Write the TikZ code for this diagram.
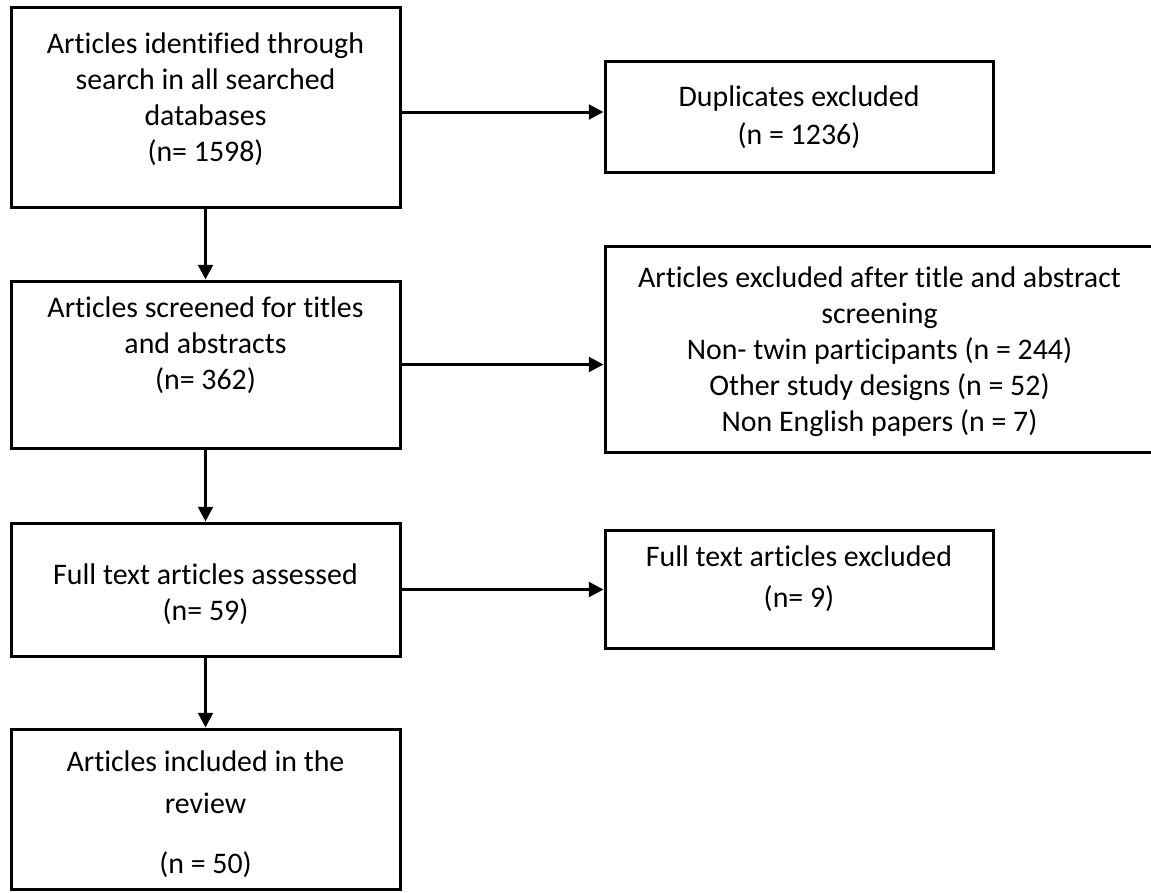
\documentclass[tikz,border=0pt]{standalone}
\usepackage{fontspec}
\setmainfont{Carlito}[Ligatures={NoCommon}]
\usetikzlibrary{arrows.meta,calc,fit}
\begin{document}
\begin{tikzpicture}[x=0.75pt,y=-0.75pt,
  box/.style={draw=black, line width=2.25pt, rectangle, inner sep=0pt},
  txt/.style={align=center, inner sep=0pt, anchor=north, font=\fontsize{22.4}{27}\selectfont},
  arr/.style={line width=2.25pt, -{Triangle[length=11pt,width=11pt]}}]
\useasboundingbox (0,0) rectangle (1151,892);
\fill[white] (0,0) rectangle (1151,892);
% boxes
\node[box, fit={(11,8) (400,207)}] (b1) {};
\node[box, fit={(11,281) (400,448)}] (b2) {};
\node[box, fit={(11,523) (400,656)}] (b3) {};
\node[box, fit={(11,729) (400,889)}] (b4) {};
\node[box, fit={(605,62) (993,172)}] (dup) {};
\node[box, fit={(605,246) (1154,452)}] (exa) {};
\node[box, fit={(605,530) (993,648)}] (exf) {};
% texts
\node[txt] (b1t) at (b1.north |- 0,32) {Articles identified through\\search in all searched\\databases\\(n= 1598)};
\node[txt] (b2t) at (b2.north |- 0,296) {Articles screened for titles\\and abstracts\\(n= 362)};
\node[txt] (b3t) at (b3.north |- 0,563) {Full text articles assessed\\(n= 59)};
\node[txt] (b4t) at (b4.north |- 0,750) {Articles included in the\\[4.5pt]review\\[18pt](n = 50)};
\node[txt] (dupt) at (dup.north |- 0,85) {Duplicates excluded\\[1.5pt](n = 1236)};
\node[txt] (exat) at (exa.north |- 0,266) {Articles excluded after title and abstract\\screening\\Non- twin participants (n = 244)\\Other study designs (n = 52)\\Non English papers (n = 7)};
\node[txt] (exft) at (exf.north |- 0,545) {Full text articles excluded\\[4pt](n= 9)};
% connectors
\coordinate (y1) at (0,112);
\draw[arr] (b1.east |- y1) -- (dup.west |- y1);
\draw[arr] (b1.south) -- (b2.north);
\draw[arr] (b2.east) -- (b2.east -| exa.west);
\draw[arr] (b2.south) -- (b3.north);
\draw[arr] (b3.east) -- (b3.east -| exf.west);
\draw[arr] (b3.south) -- (b4.north);
\end{tikzpicture}
\end{document}
